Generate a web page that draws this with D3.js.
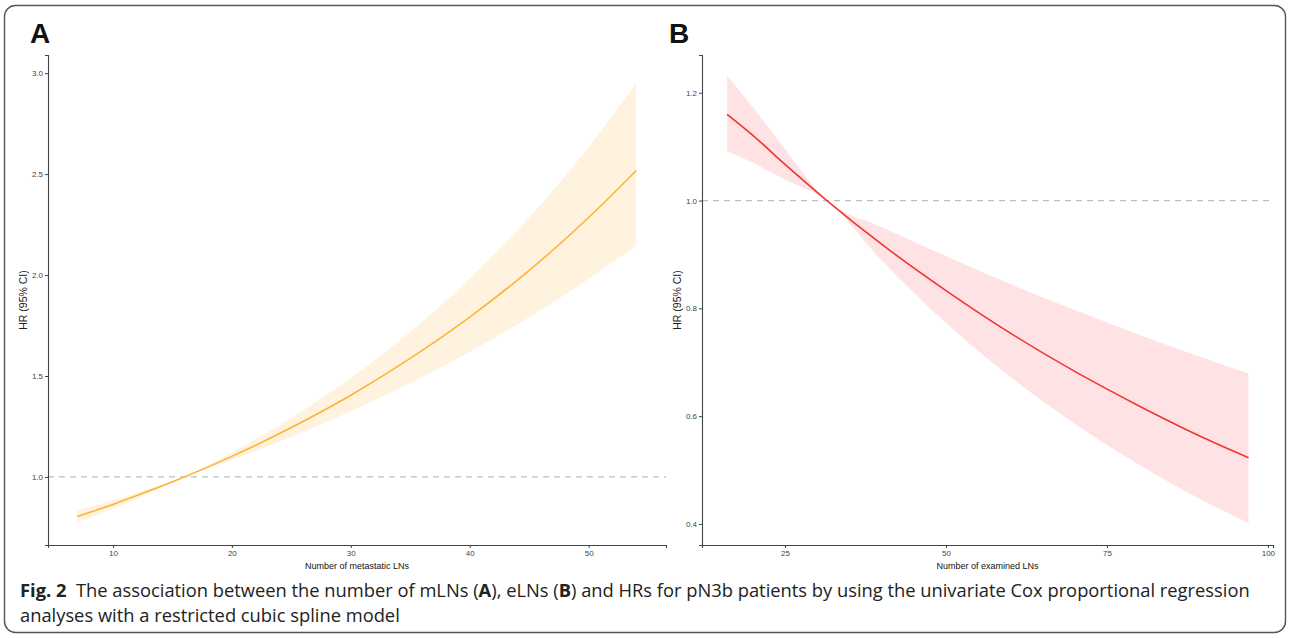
<!DOCTYPE html>
<html><head><meta charset="utf-8">
<script src="https://cdn.jsdelivr.net/npm/d3@7"></script>
<style>body{margin:0;background:#fff}svg{display:block}</style>
</head><body>
<script>
// Panel A: number of metastatic LNs
const xA = [7, 10, 13, 16, 20, 25, 30, 35, 40, 45, 50, 54];
const hrA = [0.804, 0.864, 0.930, 1.000, 1.102, 1.245, 1.405, 1.587, 1.792, 2.023, 2.285, 2.518];
const lowA = [0.774, 0.843, 0.918, 1.000, 1.084, 1.198, 1.325, 1.465, 1.620, 1.791, 1.981, 2.146];
const upA = [0.834, 0.886, 0.941, 1.000, 1.121, 1.292, 1.490, 1.719, 1.982, 2.285, 2.635, 2.953];
const xTicksA = [10, 20, 30, 40, 50];
const yTicksA = [1.0, 1.5, 2.0, 2.5, 3.0];
// Panel B: number of examined LNs
const xB = [16, 20, 25, 31.5, 40, 50, 60, 70, 80, 90, 97];
const hrB = [1.160, 1.121, 1.067, 1.000, 0.919, 0.833, 0.754, 0.683, 0.619, 0.560, 0.523];
const lowB = [1.092, 1.070, 1.039, 1.000, 0.889, 0.773, 0.673, 0.586, 0.510, 0.443, 0.402];
const upB = [1.232, 1.173, 1.095, 1.000, 0.951, 0.897, 0.845, 0.797, 0.751, 0.708, 0.679];
const xTicksB = [25, 50, 75, 100];
const yTicksB = [0.4, 0.6, 0.8, 1.0, 1.2];
const caption1Bold = "Fig. 2";
const caption1 = "The association between the number of mLNs (A), eLNs (B) and HRs for pN3b patients by using the univariate Cox proportional regression";
const caption2 = "analyses with a restricted cubic spline model";

const W = 1290, H = 638;
const svg = d3.select("body").append("svg").attr("width", W).attr("height", H);

svg.append("rect").attr("x", 4.5).attr("y", 5.5).attr("width", 1281).attr("height", 627)
  .attr("rx", 11).attr("fill", "none").attr("stroke", "#555").attr("stroke-width", 1.4);

function panel(cfg) {
  const g = svg.append("g");
  const x = d3.scaleLinear().domain(cfg.xDom).range([cfg.left, cfg.right]);
  const y = d3.scaleLinear().domain(cfg.yDom).range([cfg.bottom, cfg.top]);
  const data = cfg.xs.map((v, i) => ({x: v, hr: cfg.hr[i], lo: cfg.lo[i], up: cfg.up[i]}));
  g.append("path").datum(data)
    .attr("d", d3.area().x(d => x(d.x)).y0(d => y(d.lo)).y1(d => y(d.up)).curve(d3.curveMonotoneX))
    .attr("fill", cfg.band);
  g.append("line").attr("x1", cfg.left).attr("x2", cfg.right).attr("y1", y(1)).attr("y2", y(1))
    .attr("stroke", "#bdbdbd").attr("stroke-width", 1.3).attr("stroke-dasharray", "6,5");
  g.append("path").datum(data)
    .attr("d", d3.line().x(d => x(d.x)).y(d => y(d.hr)).curve(d3.curveMonotoneX))
    .attr("fill", "none").attr("stroke", cfg.line).attr("stroke-width", 1.6);
  const xa = g.append("g").attr("transform", `translate(0,${cfg.bottom})`)
    .call(d3.axisBottom(x).tickValues(cfg.xTicks).tickSize(3).tickPadding(2).tickFormat(d3.format("d")));
  const ya = g.append("g").attr("transform", `translate(${cfg.left},0)`)
    .call(d3.axisLeft(y).tickValues(cfg.yTicks).tickSize(3).tickPadding(2).tickFormat(d3.format(".1f")));
  [xa, ya].forEach(a => {
    a.select(".domain").attr("stroke", "#444").attr("stroke-width", 1.1);
    a.selectAll(".tick line").attr("stroke", "#444");
    a.selectAll(".tick text").attr("fill", "#444").style("font-family", "Liberation Sans, Arial, sans-serif").style("font-size", "8px");
  });
  g.append("text").attr("x", (cfg.left + cfg.right) / 2).attr("y", 569).attr("text-anchor", "middle")
    .style("font-family", "Liberation Sans, Arial, sans-serif").style("font-size", "9px").attr("fill", "#111")
    .text(cfg.xTitle);
  g.append("text").attr("transform", `translate(${cfg.left - 21},${(cfg.top + cfg.bottom) / 2}) rotate(-90)`)
    .attr("text-anchor", "middle").style("font-family", "Liberation Sans, Arial, sans-serif")
    .style("font-size", "10.5px").attr("fill", "#222").text("HR (95% CI)");
  g.append("text").attr("x", cfg.letterX).attr("y", 43)
    .style("font-family", "Liberation Sans, Arial, sans-serif").style("font-weight", "bold")
    .style("font-size", "28px").attr("fill", "#111").text(cfg.letter);
}

panel({xDom: [4.54, 56.5], yDom: [0.663, 3.09], left: 48, right: 666, top: 55, bottom: 545,
  xs: xA, hr: hrA, lo: lowA, up: upA, xTicks: xTicksA, yTicks: yTicksA,
  band: "#fff3e0", line: "#fdb338", xTitle: "Number of metastatic LNs", letter: "A", letterX: 30});
panel({xDom: [12.1, 100.8], yDom: [0.361, 1.27], left: 702, right: 1273, top: 55, bottom: 545,
  xs: xB, hr: hrB, lo: lowB, up: upB, xTicks: xTicksB, yTicks: yTicksB,
  band: "#ffe2e4", line: "#f23333", xTitle: "Number of examined LNs", letter: "B", letterX: 669});

const capFont = "'Open Sans', 'Noto Sans', sans-serif";
const t1 = svg.append("text").attr("x", 0).attr("y", 0)
  .style("font-family", capFont).style("font-size", "18px").attr("fill", "#222");
t1.append("tspan").style("font-weight", "bold").text(caption1Bold);
t1.append("tspan").text("\u00a0\u00a0");
const parts = caption1.split(/(\(A\)|\(B\))/);
parts.forEach(p => {
  if (p === "(A)" || p === "(B)") {
    t1.append("tspan").text("(");
    t1.append("tspan").style("font-weight", "bold").text(p[1]);
    t1.append("tspan").text(")");
  } else if (p) t1.append("tspan").text(p);
});
const w1 = t1.node().getComputedTextLength();
const s = 1230 / w1;
t1.attr("transform", `translate(20,597) scale(${s},1)`);
svg.append("text").attr("transform", `translate(20,622) scale(${s},1)`)
  .style("font-family", capFont).style("font-size", "18px").attr("fill", "#222").text(caption2);
</script>
</body></html>
